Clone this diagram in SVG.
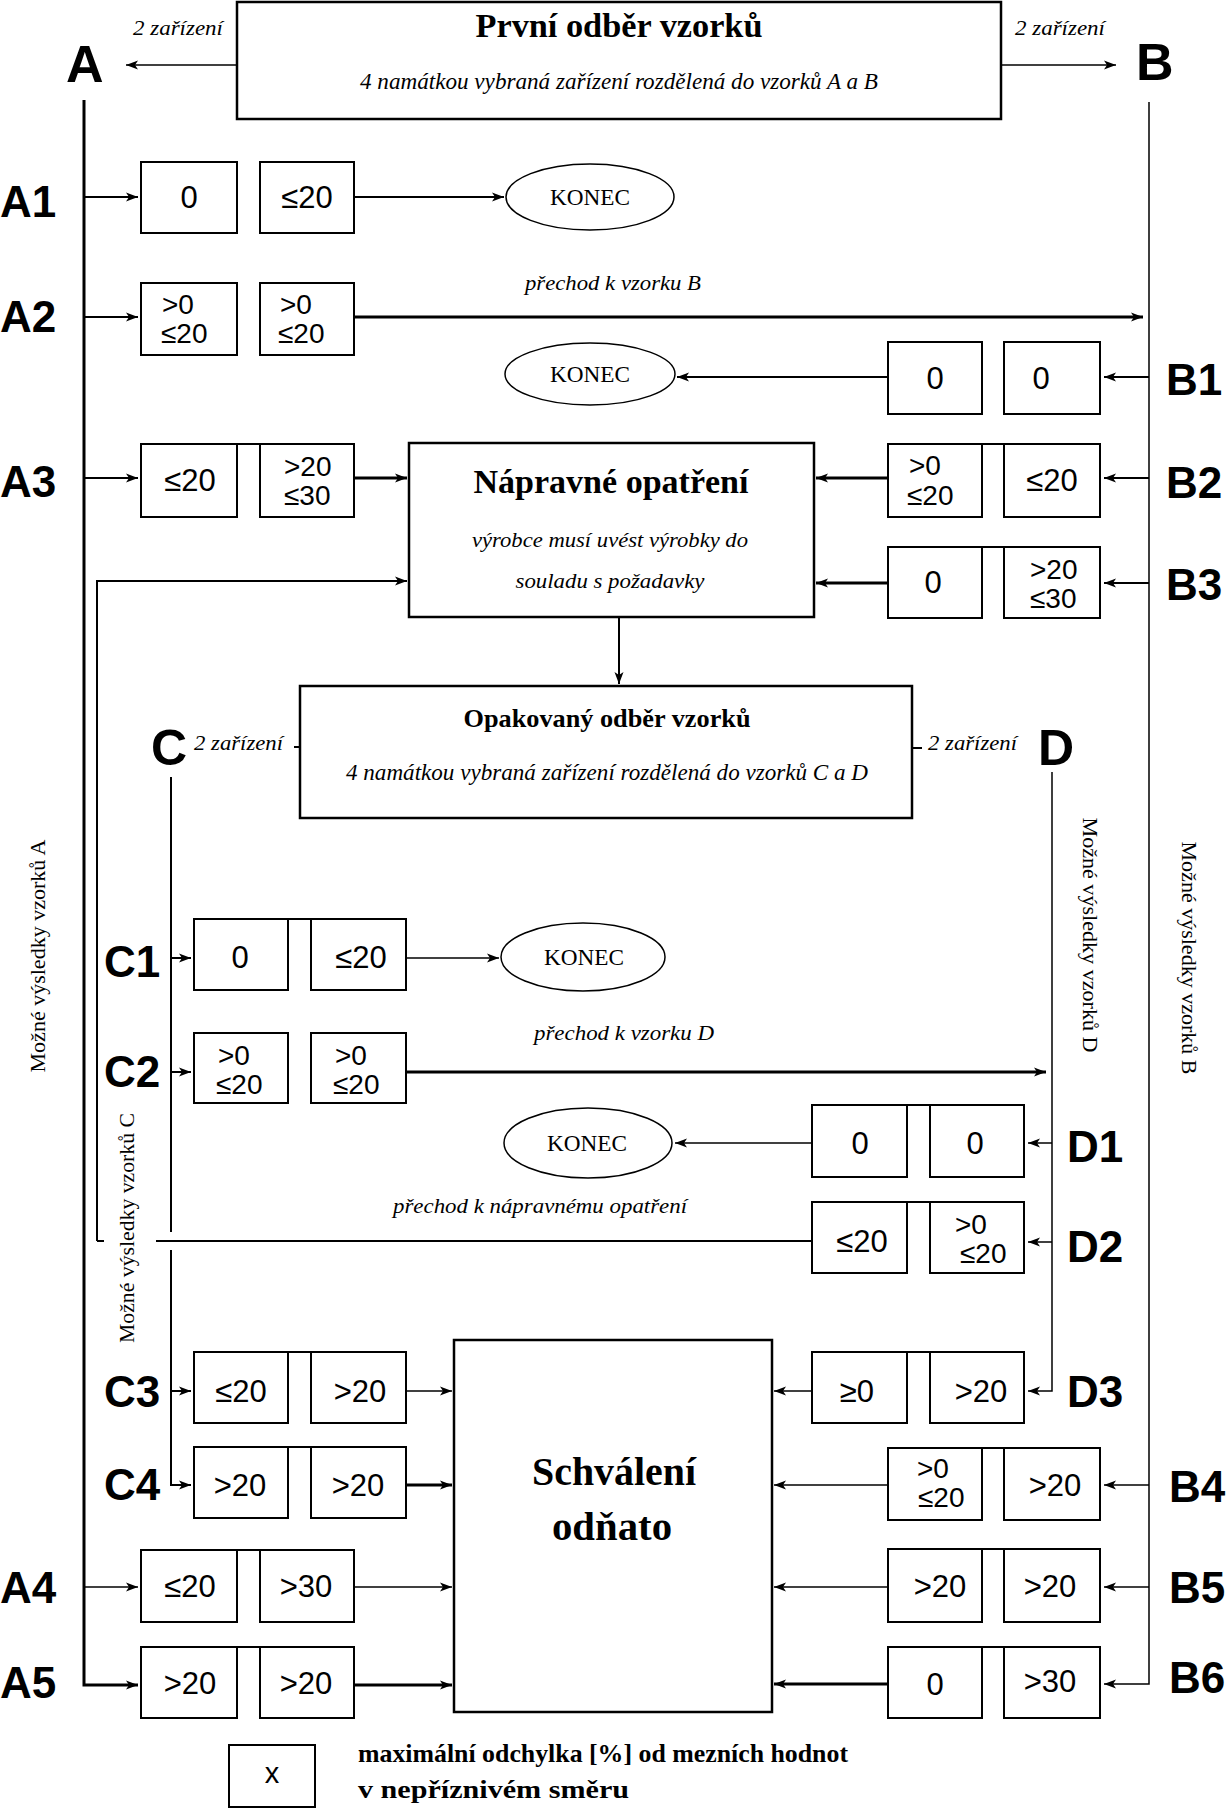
<svg xmlns="http://www.w3.org/2000/svg" width="1230" height="1809" viewBox="0 0 1230 1809">
<style>
.bg{fill:#fff}
.big{fill:#fff;stroke:#000;stroke-width:2.5}
.bx{fill:#fff;stroke:#000;stroke-width:2}
.el{fill:#fff;stroke:#000;stroke-width:1.5}
.ln{fill:none;stroke:#000;stroke-width:2}
.lt{fill:none;stroke:#000;stroke-width:1.5}
.lk{fill:none;stroke:#000;stroke-width:3}
.ar{marker-end:url(#ah)}
.v{font-family:"Liberation Sans",Arial,sans-serif;font-size:31px;fill:#000}
.v2{font-family:"Liberation Sans",Arial,sans-serif;font-size:28px;fill:#000}
.c{text-anchor:middle}
.lab{font-family:"Liberation Sans",Arial,sans-serif;font-weight:bold;font-size:44px;fill:#000}
.big-lab{font-family:"Liberation Sans",Arial,sans-serif;font-weight:bold;font-size:52px;fill:#000}
.ttl{font-family:"Liberation Serif","Times New Roman",serif;font-weight:bold;fill:#000;text-anchor:middle}
.it{font-family:"Liberation Serif","Times New Roman",serif;font-style:italic;fill:#000}
.rm{font-family:"Liberation Serif","Times New Roman",serif;fill:#000}
</style>
<defs>
<marker id="ah" markerWidth="12" markerHeight="10" refX="12" refY="5" orient="auto" markerUnits="userSpaceOnUse"><path d="M0,0.5 L12,5 L0,9.5 L3,5 z" fill="#000"/></marker>
</defs>
<rect class="bg" x="0" y="0" width="1230" height="1809"/>

<g id="connectors">
<path class="lt ar" d="M237,65 H126"/>
<path class="lt ar" d="M1001,65 H1116"/>
<path class="lk ar" d="M84,100 V1685 H138"/>
<path class="ln ar" d="M84,197 H138"/>
<path class="ln ar" d="M84,317 H138"/>
<path class="ln ar" d="M84,478 H138"/>
<path class="lt ar" d="M84,1587 H138"/>
<path class="lt ar" d="M1149,102 V1684 H1104"/>
<path class="ln ar" d="M1149,377 H1104"/>
<path class="ln ar" d="M1149,478 H1104"/>
<path class="ln ar" d="M1149,583 H1104"/>
<path class="lt ar" d="M1149,1485 H1104"/>
<path class="lt ar" d="M1149,1587 H1104"/>
<path class="ln" d="M171,777 V1232"/>
<path class="ln ar" d="M171,1250 V1485 H191"/>
<path class="ln ar" d="M171,958 H191"/>
<path class="ln ar" d="M171,1072 H191"/>
<path class="ln ar" d="M171,1391 H191"/>
<path class="lt ar" d="M1052,772 V1391 H1028"/>
<path class="lt ar" d="M1052,1143 H1028"/>
<path class="lt ar" d="M1052,1242 H1028"/>
<path class="ln ar" d="M354,197 H504"/>
<path class="lk ar" d="M354,317 H1143"/>
<path class="ln ar" d="M888,377 H677"/>
<path class="lk ar" d="M354,478 H407"/>
<path class="lk ar" d="M888,478 H816"/>
<path class="lk ar" d="M888,583 H816"/>
<path class="ln ar" d="M97,1241 V581 H407"/>
<path class="ln" d="M97,1241 H104"/>
<path class="ln" d="M156,1241 H812"/>
<path class="ln ar" d="M619,617 V684"/>
<path class="ln" d="M294,747 H300"/>
<path class="ln" d="M912,748 H922"/>
<path class="lt ar" d="M406,958 H499"/>
<path class="lk ar" d="M406,1072 H1046"/>
<path class="lt ar" d="M812,1143 H675"/>
<path class="lt ar" d="M406,1391 H452"/>
<path class="lk ar" d="M406,1485 H452"/>
<path class="lt ar" d="M354,1587 H452"/>
<path class="lk ar" d="M354,1685 H452"/>
<path class="lt ar" d="M812,1391 H774"/>
<path class="lt ar" d="M888,1485 H774"/>
<path class="lt ar" d="M888,1587 H774"/>
<path class="lk ar" d="M888,1684 H774"/>
<path class="ln" d="M237,444 H260 M237,1550 H260 M237,1647 H260 M982,444 H1004 M982,547 H1004 M982,1448 H1004 M982,1549 H1004 M982,1647 H1004 M288,919 H311 M288,1352 H311 M288,1447 H311 M907,1105 H930 M907,1202 H930 M907,1352 H930"/>
</g>

<g id="labels">
<text class="big-lab" x="66" y="82">A</text>
<text class="big-lab" x="1136" y="80">B</text>
<text class="big-lab" x="151" y="765" style="font-size:50px">C</text>
<text class="big-lab" x="1038" y="765" style="font-size:50px">D</text>
<text class="lab" x="0" y="217">A1</text>
<text class="lab" x="0" y="332">A2</text>
<text class="lab" x="0" y="497">A3</text>
<text class="lab" x="0" y="1603">A4</text>
<text class="lab" x="0" y="1698">A5</text>
<text class="lab" x="1166" y="395">B1</text>
<text class="lab" x="1166" y="498">B2</text>
<text class="lab" x="1166" y="600">B3</text>
<text class="lab" x="1169" y="1502">B4</text>
<text class="lab" x="1169" y="1603">B5</text>
<text class="lab" x="1169" y="1693">B6</text>
<text class="lab" x="104" y="977">C1</text>
<text class="lab" x="104" y="1087">C2</text>
<text class="lab" x="104" y="1407">C3</text>
<text class="lab" x="104" y="1500">C4</text>
<text class="lab" x="1067" y="1162">D1</text>
<text class="lab" x="1067" y="1262">D2</text>
<text class="lab" x="1067" y="1407">D3</text>
<text class="it" x="133" y="35" style="font-size:22px" textLength="90" lengthAdjust="spacingAndGlyphs">2 zařízení</text>
<text class="it" x="1015" y="35" style="font-size:22px" textLength="90" lengthAdjust="spacingAndGlyphs">2 zařízení</text>
<text class="it" x="194" y="750" style="font-size:22px" textLength="89" lengthAdjust="spacingAndGlyphs">2 zařízení</text>
<text class="it" x="928" y="750" style="font-size:22px" textLength="89" lengthAdjust="spacingAndGlyphs">2 zařízení</text>
<text class="it" x="525" y="290" style="font-size:22px" textLength="176" lengthAdjust="spacingAndGlyphs">přechod k vzorku B</text>
<text class="it" x="534" y="1040" style="font-size:22px" textLength="180" lengthAdjust="spacingAndGlyphs">přechod k vzorku D</text>
<text class="it" x="393" y="1213" style="font-size:22px" textLength="294" lengthAdjust="spacingAndGlyphs">přechod k nápravnému opatření</text>
<text class="rm c" transform="translate(45,956) rotate(-90)" style="font-size:22px" textLength="233" lengthAdjust="spacingAndGlyphs">Možné výsledky vzorků A</text>
<text class="rm c" transform="translate(134,1228) rotate(-90)" style="font-size:22px" textLength="230" lengthAdjust="spacingAndGlyphs">Možné výsledky vzorků C</text>
<text class="rm c" transform="translate(1083,935) rotate(90)" style="font-size:22px" textLength="235" lengthAdjust="spacingAndGlyphs">Možné výsledky vzorků D</text>
<text class="rm c" transform="translate(1182,958) rotate(90)" style="font-size:22px" textLength="233" lengthAdjust="spacingAndGlyphs">Možné výsledky vzorků B</text>
</g>

<g id="prvni-odber">
<rect class="big" x="237" y="2" width="764" height="117"/>
<text class="ttl" x="619" y="37" style="font-size:33px" textLength="287" lengthAdjust="spacingAndGlyphs">První odběr vzorků</text>
<text class="it" x="619" y="89" style="font-size:23px;text-anchor:middle" textLength="518" lengthAdjust="spacingAndGlyphs">4 namátkou vybraná zařízení rozdělená do vzorků A a B</text>
</g>

<g id="napravne-opatreni">
<rect class="big" x="409" y="443" width="405" height="174"/>
<text class="ttl" x="611" y="493" style="font-size:33px" textLength="275" lengthAdjust="spacingAndGlyphs">Nápravné opatření</text>
<text class="it" x="610" y="547" style="font-size:22px;text-anchor:middle" textLength="276" lengthAdjust="spacingAndGlyphs">výrobce musí uvést výrobky do</text>
<text class="it" x="610" y="588" style="font-size:22px;text-anchor:middle" textLength="189" lengthAdjust="spacingAndGlyphs">souladu s požadavky</text>
</g>

<g id="opakovany-odber">
<rect class="big" x="300" y="686" width="612" height="132"/>
<text class="ttl" x="607" y="727" style="font-size:26px" textLength="287" lengthAdjust="spacingAndGlyphs">Opakovaný odběr vzorků</text>
<text class="it" x="607" y="780" style="font-size:23px;text-anchor:middle" textLength="522" lengthAdjust="spacingAndGlyphs">4 namátkou vybraná zařízení rozdělená do vzorků C a D</text>
</g>

<g id="schvaleni-odnato">
<rect class="big" x="454" y="1340" width="318" height="372"/>
<text class="ttl" x="614" y="1485" style="font-size:40px" textLength="164" lengthAdjust="spacingAndGlyphs">Schválení</text>
<text class="ttl" x="612" y="1540" style="font-size:40px" textLength="120" lengthAdjust="spacingAndGlyphs">odňato</text>
</g>

<g id="konec-a1"><ellipse class="el" cx="590" cy="197" rx="84" ry="33"/><text class="rm c" x="590" y="205" style="font-size:23px" textLength="80" lengthAdjust="spacingAndGlyphs">KONEC</text></g>
<g id="konec-b1"><ellipse class="el" cx="590" cy="374" rx="85" ry="31"/><text class="rm c" x="590" y="382" style="font-size:23px" textLength="80" lengthAdjust="spacingAndGlyphs">KONEC</text></g>
<g id="konec-c1"><ellipse class="el" cx="583" cy="957" rx="82" ry="34"/><text class="rm c" x="584" y="965" style="font-size:23px" textLength="80" lengthAdjust="spacingAndGlyphs">KONEC</text></g>
<g id="konec-d1"><ellipse class="el" cx="588" cy="1143" rx="84" ry="35"/><text class="rm c" x="587" y="1151" style="font-size:23px" textLength="80" lengthAdjust="spacingAndGlyphs">KONEC</text></g>

<g id="a1"><rect class="bx" x="141" y="162" width="96" height="71"/><text class="v c" x="189" y="208">0</text><rect class="bx" x="260" y="162" width="94" height="71"/><text class="v c" x="307" y="208">≤20</text></g>
<g id="a2"><rect class="bx" x="141" y="283" width="96" height="72"/><text class="v2" x="162" y="314">&gt;0</text><text class="v2" x="161" y="343">≤20</text><rect class="bx" x="260" y="283" width="94" height="72"/><text class="v2" x="280" y="314">&gt;0</text><text class="v2" x="278" y="343">≤20</text></g>
<g id="a3"><rect class="bx" x="141" y="444" width="96" height="73"/><text class="v c" x="190" y="491">≤20</text><rect class="bx" x="260" y="444" width="94" height="73"/><text class="v2" x="284" y="476">&gt;20</text><text class="v2" x="284" y="505">≤30</text></g>
<g id="a4"><rect class="bx" x="141" y="1550" width="96" height="72"/><text class="v c" x="190" y="1597">≤20</text><rect class="bx" x="260" y="1550" width="94" height="72"/><text class="v c" x="306" y="1597">&gt;30</text></g>
<g id="a5"><rect class="bx" x="141" y="1647" width="96" height="71"/><text class="v c" x="190" y="1694">&gt;20</text><rect class="bx" x="260" y="1647" width="94" height="71"/><text class="v c" x="306" y="1694">&gt;20</text></g>

<g id="b1"><rect class="bx" x="888" y="342" width="94" height="72"/><text class="v c" x="935" y="389">0</text><rect class="bx" x="1004" y="342" width="96" height="72"/><text class="v c" x="1041" y="389">0</text></g>
<g id="b2"><rect class="bx" x="888" y="444" width="94" height="73"/><text class="v2" x="909" y="475">&gt;0</text><text class="v2" x="907" y="505">≤20</text><rect class="bx" x="1004" y="444" width="96" height="73"/><text class="v c" x="1052" y="491">≤20</text></g>
<g id="b3"><rect class="bx" x="888" y="547" width="94" height="71"/><text class="v c" x="933" y="593">0</text><rect class="bx" x="1004" y="547" width="96" height="71"/><text class="v2" x="1030" y="579">&gt;20</text><text class="v2" x="1030" y="608">≤30</text></g>
<g id="b4"><rect class="bx" x="888" y="1448" width="94" height="72"/><text class="v2" x="917" y="1478">&gt;0</text><text class="v2" x="918" y="1507">≤20</text><rect class="bx" x="1004" y="1448" width="96" height="72"/><text class="v c" x="1055" y="1496">&gt;20</text></g>
<g id="b5"><rect class="bx" x="888" y="1549" width="94" height="73"/><text class="v c" x="940" y="1597">&gt;20</text><rect class="bx" x="1004" y="1549" width="96" height="73"/><text class="v c" x="1050" y="1597">&gt;20</text></g>
<g id="b6"><rect class="bx" x="888" y="1647" width="94" height="71"/><text class="v c" x="935" y="1695">0</text><rect class="bx" x="1004" y="1647" width="96" height="71"/><text class="v c" x="1050" y="1692">&gt;30</text></g>

<g id="c1"><rect class="bx" x="194" y="919" width="94" height="71"/><text class="v c" x="240" y="968">0</text><rect class="bx" x="311" y="919" width="95" height="71"/><text class="v c" x="361" y="968">≤20</text></g>
<g id="c2"><rect class="bx" x="194" y="1033" width="94" height="70"/><text class="v2" x="218" y="1065">&gt;0</text><text class="v2" x="216" y="1094">≤20</text><rect class="bx" x="311" y="1033" width="95" height="70"/><text class="v2" x="335" y="1065">&gt;0</text><text class="v2" x="333" y="1094">≤20</text></g>
<g id="c3"><rect class="bx" x="194" y="1352" width="94" height="71"/><text class="v c" x="241" y="1402">≤20</text><rect class="bx" x="311" y="1352" width="95" height="71"/><text class="v c" x="360" y="1402">&gt;20</text></g>
<g id="c4"><rect class="bx" x="194" y="1447" width="94" height="71"/><text class="v c" x="240" y="1496">&gt;20</text><rect class="bx" x="311" y="1447" width="95" height="71"/><text class="v c" x="358" y="1496">&gt;20</text></g>

<g id="d1"><rect class="bx" x="812" y="1105" width="95" height="72"/><text class="v c" x="860" y="1154">0</text><rect class="bx" x="930" y="1105" width="94" height="72"/><text class="v c" x="975" y="1154">0</text></g>
<g id="d2"><rect class="bx" x="812" y="1202" width="95" height="71"/><text class="v c" x="862" y="1252">≤20</text><rect class="bx" x="930" y="1202" width="94" height="71"/><text class="v2" x="955" y="1234">&gt;0</text><text class="v2" x="960" y="1263">≤20</text></g>
<g id="d3"><rect class="bx" x="812" y="1352" width="95" height="71"/><text class="v c" x="857" y="1402">≥0</text><rect class="bx" x="930" y="1352" width="94" height="71"/><text class="v c" x="981" y="1402">&gt;20</text></g>

<g id="legend">
<rect class="bx" x="229" y="1745" width="86" height="62"/>
<text class="v c" x="272" y="1783" style="font-size:29px">x</text>
<text class="ttl" x="358" y="1762" style="font-size:25px;text-anchor:start" textLength="490" lengthAdjust="spacingAndGlyphs">maximální odchylka [%] od mezních hodnot</text>
<text class="ttl" x="358" y="1798" style="font-size:25px;text-anchor:start" textLength="271" lengthAdjust="spacingAndGlyphs">v nepříznivém směru</text>
</g>
</svg>
